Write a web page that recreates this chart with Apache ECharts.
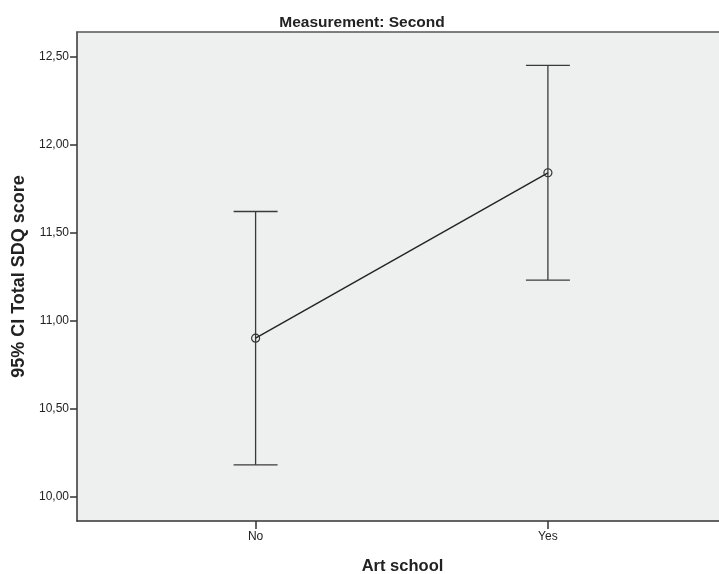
<!DOCTYPE html>
<html>
<head>
<meta charset="utf-8">
<script src="https://cdn.jsdelivr.net/npm/echarts@6/dist/echarts.min.js"></script>
<style>
  html, body { margin: 0; padding: 0; background: #fff; }
  #chart { width: 719px; height: 574px; }
</style>
</head>
<body>
<div id="chart"></div>
<script>
// Group labels and their positions on the x axis
const categories = ['No', 'Yes'];
const categoryPos = [1, 2];
// Mean Total SDQ score per group, with 95% confidence limits
const means = [10.90, 11.84];
const ciLower = [10.18, 11.23];
const ciUpper = [11.62, 12.45];
// Y-axis tick values
const yTicks = [10.0, 10.5, 11.0, 11.5, 12.0, 12.5];

const fontFam = '"Liberation Sans", Arial, sans-serif';
const xMin = 0.389;
const xMax = 2.599;

const chart = echarts.init(document.getElementById('chart'), null, { renderer: 'canvas' });

const meanData = categoryPos.map((x, i) => [x, means[i]]);
const ciData = categoryPos.map((x, i) => [x, ciLower[i], ciUpper[i]]);

chart.setOption({
  animation: false,
  title: {
    text: 'Measurement: Second',
    left: 357,
    top: 10,
    textAlign: 'center',
    textStyle: { fontFamily: fontFam, fontSize: 15.5, fontWeight: 'bold', color: '#222' }
  },
  grid: {
    left: 77, right: -4, top: 32, bottom: 53,
    outerBoundsMode: 'none',
    containLabel: false,
    show: true,
    backgroundColor: '#eef0ef',
    borderWidth: 0
  },
  xAxis: [
    {
      type: 'value',
      min: xMin,
      max: xMax,
      name: 'Art school',
      nameLocation: 'middle',
      nameGap: 37,
      nameTextStyle: { fontFamily: fontFam, fontSize: 16.5, fontWeight: 'bold', color: '#222', padding: [0, 0, 0, 5] },
      axisLine: { show: true, lineStyle: { color: '#333', width: 1.5 } },
      axisTick: { show: true, customValues: categoryPos, length: 8, lineStyle: { color: '#333', width: 1.5 } },
      axisLabel: {
        customValues: categoryPos,
        formatter: v => categories[categoryPos.indexOf(v)] || '',
        fontFamily: fontFam, fontSize: 12, color: '#222', margin: 10
      },
      splitLine: { show: false }
    },
    {
      // top frame line of the plot area
      type: 'value',
      position: 'top',
      min: xMin,
      max: xMax,
      axisLine: { show: true, lineStyle: { color: '#555', width: 1.5 } },
      axisTick: { show: false },
      axisLabel: { show: false },
      splitLine: { show: false }
    }
  ],
  yAxis: {
    type: 'value',
    min: 9.861,
    max: 12.64,
    name: '95% CI Total SDQ score',
    nameLocation: 'middle',
    nameGap: 48,
    nameTextStyle: { fontFamily: fontFam, fontSize: 18, fontWeight: 'bold', color: '#222' },
    axisLine: { show: true, lineStyle: { color: '#333', width: 1.5 } },
    axisTick: { show: true, customValues: yTicks, length: 7, lineStyle: { color: '#333', width: 1.5 } },
    axisLabel: {
      customValues: yTicks,
      formatter: v => v.toFixed(2).replace('.', ','),
      fontFamily: fontFam, fontSize: 12, color: '#222', margin: 8
    },
    splitLine: { show: false }
  },
  series: [
    {
      type: 'custom',
      name: 'CI',
      data: ciData,
      z: 2,
      renderItem: function (params, api) {
        const x = api.value(0);
        const lo = api.coord([x, api.value(1)]);
        const hi = api.coord([x, api.value(2)]);
        const half = 22;
        const style = { stroke: '#3a3a3a', lineWidth: 1.3 };
        return {
          type: 'group',
          children: [
            { type: 'line', shape: { x1: lo[0], y1: lo[1], x2: hi[0], y2: hi[1] }, style },
            { type: 'line', shape: { x1: hi[0] - half, y1: hi[1], x2: hi[0] + half, y2: hi[1] }, style },
            { type: 'line', shape: { x1: lo[0] - half, y1: lo[1], x2: lo[0] + half, y2: lo[1] }, style }
          ]
        };
      }
    },
    {
      type: 'line',
      name: 'Mean',
      data: meanData,
      z: 3,
      symbol: 'circle',
      symbolSize: 8,
      showAllSymbol: true,
      lineStyle: { color: '#222', width: 1.4 },
      itemStyle: { color: 'transparent', borderColor: '#333', borderWidth: 1.2 }
    }
  ]
});
</script>
</body>
</html>
